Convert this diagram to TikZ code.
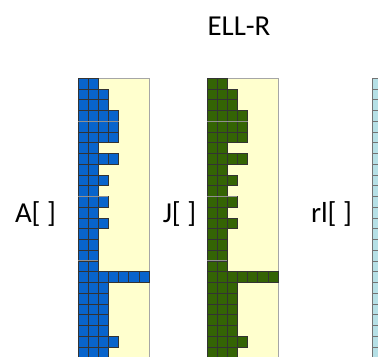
\documentclass[tikz,border=0pt]{standalone}
\usepackage{fontspec}
\setmainfont{Carlito}
\definecolor{cellblue}{RGB}{8,100,204}
\definecolor{cellgreen}{RGB}{52,100,4}
\definecolor{padyellow}{RGB}{255,255,206}
\definecolor{rlblue}{RGB}{182,224,230}
\tikzset{
  padbox/.style={draw=gray!70, line width=0.8pt, fill=padyellow},
  cellbox/.style={draw=black!80, line width=0.5pt},
  slicebar/.style={draw=gray!55!black!60, line width=1pt},
  lbl/.style={font=\fontsize{29}{32}\selectfont, inner sep=0pt, anchor=base}
}
% cell width / row height of the ELL-R arrays
\def\cw{10.14}
\def\rh{10.75}
% #1 = left edge, #2 = cell colour
\newcommand\ellcolumn[2]{%
  \draw[padbox] (#1,78) rectangle ({#1+7*\cw},370);
  \foreach \n [count=\r] in {2,3,3,4,4,4,2,4,2,3,2,3,2,3,2,2,2,2,7,3,3,3,3,3,4,3,3} {
    \foreach \c in {1,...,\n} {
      \draw[cellbox, fill=#2] ({#1+(\c-1)*\cw},{78+(\r-1)*\rh}) rectangle +(\cw,\rh);
    }
  }
  % slice boundaries
  \draw[slicebar] (#1,{78+4*\rh}) -- +({4*\cw},0);
  \draw[slicebar] (#1,{78+11*\rh}) -- +({3*\cw},0);
  \draw[slicebar] (#1,{78+17*\rh}) -- +({2*\cw},0);
}
\begin{document}
\begin{tikzpicture}[x=1bp,y=-1bp]
\useasboundingbox (0,0) rectangle (378,357);
\clip (0,0) rectangle (378,357);

\node[lbl] (title) at (239,35) {ELL-R};

\ellcolumn{78}{cellblue}
\ellcolumn{207}{cellgreen}

% row-length array
\foreach \r in {1,...,27} {
  \draw[cellbox, draw=black!55, fill=rlblue] (372,{78+(\r-1)*\rh}) rectangle +(\cw,\rh);
}

\node[lbl] (lblA) at (35.5,222) {A[ ]};
\node[lbl] (lblJ) at (179.5,222) {J[ ]};
\node[lbl] (lblrl) at (331.5,222) {rl[ ]};
\end{tikzpicture}
\end{document}
